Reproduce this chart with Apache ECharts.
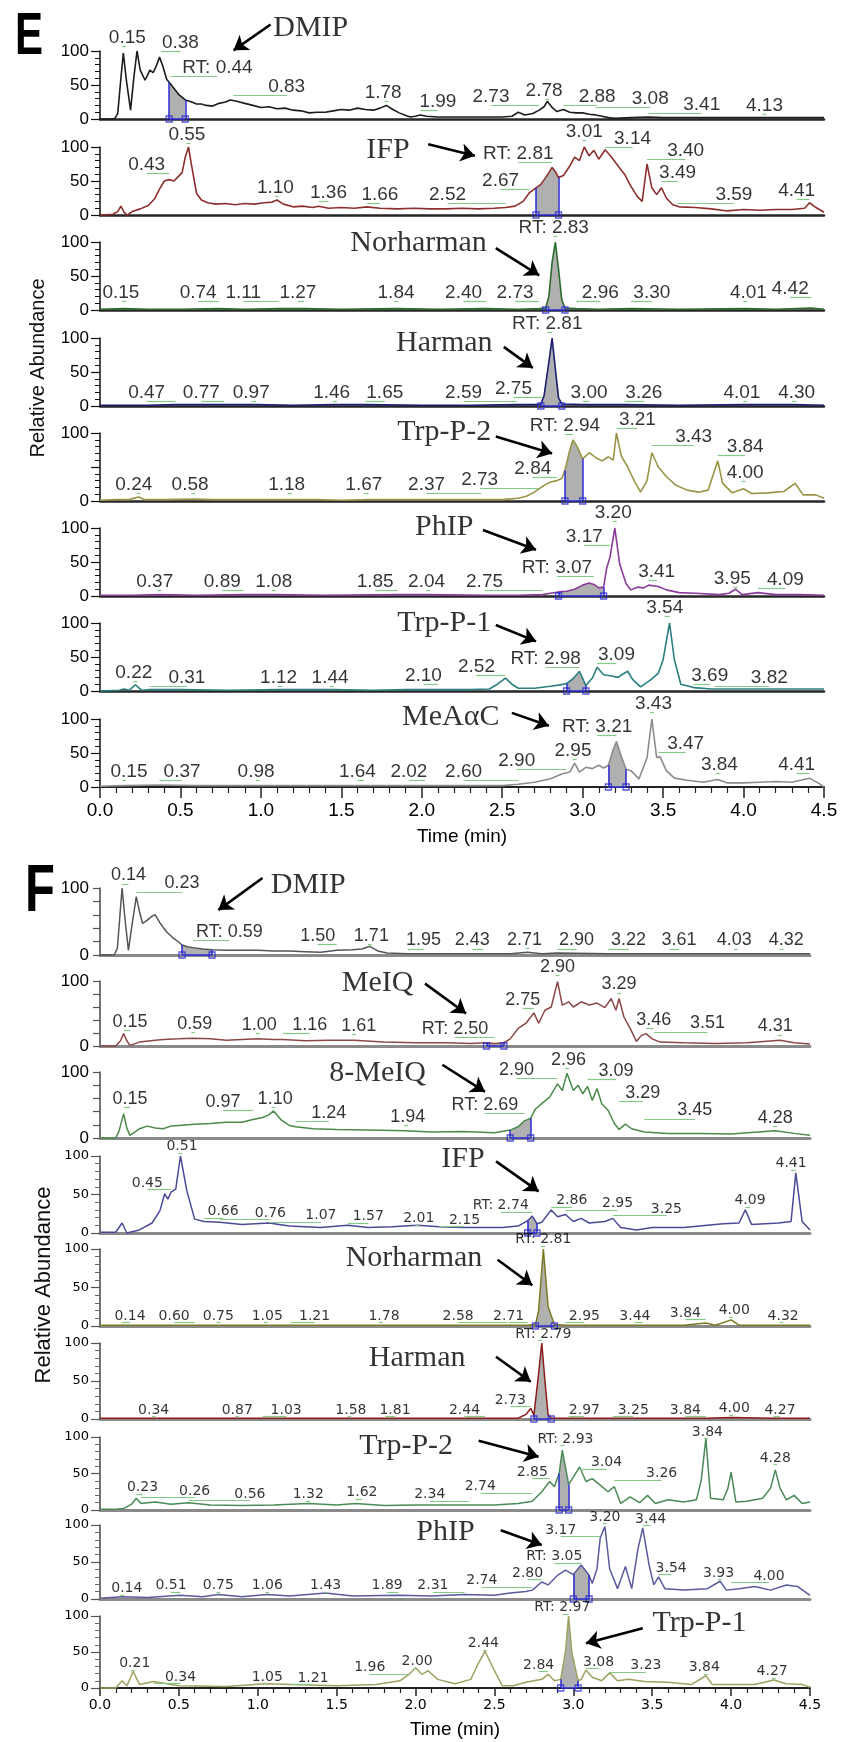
<!DOCTYPE html>
<html><head><meta charset="utf-8">
<script src="https://cdn.jsdelivr.net/npm/echarts/dist/echarts.min.js"></script>
<style>html,body{margin:0;padding:0;background:#fff}#c{width:843px;height:1742px}</style>
</head><body><div id="c"></div>
<script>
// ---------- tick labels ----------
const timeTickLabels = ['0.0','0.5','1.0','1.5','2.0','2.5','3.0','3.5','4.0','4.5'];
const yTickLabels3 = {0:'0',50:'50',100:'100'};
const yTickLabelsEnds = {0:'0',100:'100'};

// ---------- Panel E ----------
const eDmipData = [[0,0],[0.09,0],[0.11,8],[0.13,60],[0.145,97],[0.165,55],[0.19,13],[0.21,60],[0.23,100],[0.25,72],[0.28,57],[0.31,72],[0.33,68],[0.35,78],[0.37,91],[0.39,78],[0.415,58],[0.43,54],[0.46,45],[0.49,36],[0.53,28],[0.57,25],[0.6,22],[0.63,22],[0.66,20],[0.7,19],[0.74,23],[0.78,25],[0.81,28],[0.85,26],[0.9,23],[0.95,20],[1.0,17],[1.05,18],[1.1,15],[1.15,16],[1.2,13],[1.25,12],[1.3,9],[1.35,10],[1.4,10],[1.45,12],[1.5,14],[1.55,13],[1.6,16],[1.65,14],[1.7,13],[1.74,16],[1.78,20],[1.82,14],[1.86,9],[1.9,5],[1.93,3],[1.96,4],[1.99,6],[2.03,4],[2.1,3],[2.2,3],[2.3,3],[2.4,3],[2.5,3],[2.56,4],[2.6,10],[2.64,6],[2.69,8],[2.73,13],[2.76,18],[2.78,26],[2.81,17],[2.84,11],[2.88,14],[2.92,10],[2.96,9],[3.0,9],[3.04,7],[3.08,6],[3.12,4],[3.16,2],[3.2,1],[3.3,2],[3.41,3],[3.5,2],[3.7,2],[3.9,2],[4.13,2],[4.3,2],[4.5,2]];
const eDmipLabels = [['0.15',0.17,119],['0.38',0.50,112],['RT: 0.44',0.73,75],['0.83',1.16,47],['1.78',1.76,38],['1.99',2.10,26],['2.73',2.43,33],['2.78',2.76,42],['2.88',3.09,33],['3.08',3.42,30],['3.41',3.74,21],['4.13',4.13,20]];
const eDmipName = ['DMIP',1.31,134];
const eDmipArrow = [1.06,139,0.83,101];
const eDmipShade = [0.43,0.53];

const eIfpData = [[0,0],[0.08,1],[0.11,5],[0.13,13],[0.15,4],[0.17,0],[0.2,5],[0.25,9],[0.3,14],[0.34,24],[0.37,38],[0.4,50],[0.43,52],[0.46,50],[0.48,55],[0.51,62],[0.53,85],[0.55,100],[0.57,72],[0.6,32],[0.63,22],[0.67,18],[0.72,16],[0.78,17],[0.84,15],[0.9,17],[0.96,16],[1.02,18],[1.07,19],[1.1,22],[1.14,16],[1.2,12],[1.26,13],[1.32,11],[1.36,13],[1.42,10],[1.5,11],[1.58,10],[1.66,12],[1.74,10],[1.85,9],[1.95,10],[2.05,9],[2.15,9],[2.25,10],[2.35,9],[2.45,10],[2.52,11],[2.58,13],[2.63,20],[2.67,33],[2.71,40],[2.74,45],[2.77,55],[2.81,70],[2.83,64],[2.85,55],[2.88,58],[2.92,72],[2.95,85],[2.98,80],[3.01,100],[3.04,87],[3.07,95],[3.1,82],[3.14,96],[3.18,85],[3.22,72],[3.26,60],[3.3,42],[3.34,27],[3.37,20],[3.40,75],[3.43,40],[3.46,30],[3.49,40],[3.52,25],[3.56,15],[3.6,12],[3.7,11],[3.8,9],[3.9,6],[4.0,8],[4.1,7],[4.2,8],[4.3,8],[4.38,10],[4.41,18],[4.45,11],[4.5,4]];
const eIfpLabels = [['0.43',0.29,74],['0.55',0.54,118],['1.10',1.09,40],['1.36',1.42,32],['1.66',1.74,30],['2.52',2.16,30],['2.67',2.49,51],['RT: 2.81',2.60,90],['3.01',3.01,122],['3.14',3.31,112],['3.40',3.64,95],['3.49',3.59,62],['3.59',3.94,30],['4.41',4.33,35]];
const eIfpName = ['IFP',1.79,96];
const eIfpArrow = [2.04,104,2.33,87];
const eIfpShade = [2.71,2.85];

const eNorData = [[0,1],[0.15,2],[0.3,1],[0.5,1],[0.74,2],[0.9,1],[1.11,2],[1.27,2],[1.5,1],[1.84,2],[2.1,1],[2.4,2],[2.6,1],[2.73,2],[2.77,3],[2.79,20],[2.81,70],[2.83,100],[2.85,60],[2.87,15],[2.89,3],[2.96,2],[3.1,1],[3.3,2],[3.6,1],[4.01,2],[4.2,1],[4.42,3],[4.5,1]];
const eNorLabels = [['0.15',0.13,25],['0.74',0.61,25],['1.11',0.89,25],['1.27',1.23,25],['1.84',1.84,25],['2.40',2.26,25],['2.73',2.58,25],['RT: 2.83',2.82,121],['2.96',3.11,25],['3.30',3.43,25],['4.01',4.03,25],['4.42',4.29,31]];
const eNorName = ['Norharman',1.98,98];
const eNorArrow = [2.46,91,2.73,51];
const eNorShade = [2.77,2.89];

const eHarData = [[0,1],[0.3,1],[0.47,2],[0.77,2],[0.97,2],[1.2,1],[1.46,2],[1.65,2],[2.0,1],[2.3,1],[2.59,2],[2.7,2],[2.74,3],[2.76,15],[2.79,65],[2.81,100],[2.83,55],[2.85,12],[2.87,3],[3.0,2],[3.26,2],[3.6,1],[4.01,2],[4.3,2],[4.5,1]];
const eHarLabels = [['RT: 2.81',2.78,121],['0.47',0.29,19],['0.77',0.63,19],['0.97',0.94,19],['1.46',1.44,19],['1.65',1.77,19],['2.59',2.26,19],['2.75',2.57,25],['3.00',3.04,19],['3.26',3.38,19],['4.01',3.99,19],['4.30',4.33,19]];
const eHarName = ['Harman',2.14,93];
const eHarArrow = [2.51,87,2.69,56];
const eHarShade = [2.74,2.87];

const eTrp2Data = [[0,1],[0.1,2],[0.18,2],[0.24,6],[0.28,2],[0.4,2],[0.58,3],[0.7,2],[0.9,2],[1.18,2],[1.35,2],[1.5,1],[1.67,2],[1.85,2],[2.0,2],[2.2,2],[2.37,2],[2.5,2],[2.6,4],[2.65,7],[2.7,13],[2.76,23],[2.8,28],[2.84,30],[2.87,33],[2.89,45],[2.92,75],[2.94,90],[2.97,78],[3.0,62],[3.04,71],[3.08,64],[3.12,59],[3.16,65],[3.19,60],[3.21,100],[3.24,66],[3.28,50],[3.32,30],[3.36,13],[3.40,30],[3.43,71],[3.47,50],[3.52,36],[3.58,23],[3.65,16],[3.72,13],[3.78,16],[3.82,45],[3.84,59],[3.87,26],[3.93,12],[4.0,18],[4.05,11],[4.15,12],[4.25,14],[4.32,26],[4.37,9],[4.45,9],[4.5,4]];
const eTrp2Labels = [['RT: 2.94',2.89,110],['3.21',3.34,120],['3.43',3.69,95],['3.84',4.01,80],['4.00',4.01,41],['2.84',2.69,48],['2.73',2.36,31],['2.37',2.03,24],['1.67',1.64,24],['1.18',1.16,24],['0.58',0.56,24],['0.24',0.21,24]];
const eTrp2Name = ['Trp-P-2',2.14,102];
const eTrp2Arrow = [2.46,95,2.81,70];
const eTrp2Shade = [2.89,3.0];

const ePhipData = [[0,1],[0.2,1],[0.37,2],[0.6,1],[0.89,2],[1.08,2],[1.4,1],[1.85,2],[2.04,2],[2.4,1],[2.6,1],[2.75,2],[2.8,4],[2.85,6],[2.9,7],[2.95,10],[3.0,16],[3.04,19],[3.07,17],[3.1,12],[3.13,13],[3.15,42],[3.17,57],[3.2,100],[3.23,47],[3.27,18],[3.3,9],[3.34,13],[3.38,12],[3.41,16],[3.47,14],[3.52,9],[3.6,5],[3.7,4],[3.85,2],[3.91,4],[3.95,10],[3.99,2],[4.09,5],[4.2,2],[4.35,2],[4.5,1]];
const ePhipLabels = [['3.20',3.19,122],['3.17',3.01,87],['RT: 3.07',2.84,41],['3.41',3.46,36],['3.95',3.93,26],['4.09',4.26,24],['2.75',2.39,21],['2.04',2.03,21],['1.85',1.71,21],['1.08',1.08,21],['0.89',0.76,21],['0.37',0.34,21]];
const ePhipName = ['PhIP',2.14,102];
const ePhipArrow = [2.38,97,2.71,68];
const ePhipShade = [2.85,3.13];

const eTrp1Data = [[0,0],[0.12,1],[0.15,3],[0.18,1],[0.22,9],[0.26,1],[0.31,2],[0.5,2],[0.8,1],[1.12,2],[1.44,2],[1.7,1],[1.9,2],[2.1,2],[2.3,2],[2.42,3],[2.47,10],[2.52,19],[2.56,10],[2.6,4],[2.7,4],[2.8,7],[2.86,9],[2.9,11],[2.94,18],[2.98,29],[3.02,8],[3.06,19],[3.09,35],[3.13,24],[3.18,22],[3.22,20],[3.25,25],[3.28,29],[3.31,17],[3.36,6],[3.42,16],[3.47,26],[3.5,46],[3.54,100],[3.57,46],[3.61,10],[3.69,5],[3.8,3],[3.9,3],[4.0,3],[4.2,3],[4.4,3],[4.5,3]];
const eTrp1Labels = [['3.54',3.51,122],['RT: 2.98',2.77,48],['3.09',3.21,53],['2.52',2.34,36],['2.10',2.01,23],['1.44',1.43,20],['1.12',1.11,20],['0.31',0.54,20],['0.22',0.21,27],['3.69',3.79,23],['3.82',4.16,20]];
const eTrp1Name = ['Trp-P-1',2.14,100];
const eTrp1Arrow = [2.46,97,2.71,73];
const eTrp1Shade = [2.9,3.02];

const eMeacData = [[0,1],[0.15,2],[0.37,3],[0.6,2],[0.98,2],[1.3,2],[1.64,2],[1.8,2],[2.02,2],[2.3,2],[2.5,2],[2.6,4],[2.7,7],[2.8,12],[2.87,19],[2.92,22],[2.95,35],[2.98,22],[3.02,29],[3.06,27],[3.1,32],[3.13,28],[3.16,32],[3.19,55],[3.21,67],[3.24,45],[3.27,26],[3.3,24],[3.35,12],[3.4,43],[3.43,100],[3.46,43],[3.48,45],[3.52,24],[3.57,13],[3.65,10],[3.75,7],[3.84,11],[3.9,6],[4.0,6],[4.1,7],[4.2,8],[4.3,7],[4.41,13],[4.47,5],[4.5,0]];
const eMeacLabels = [['3.43',3.44,122],['RT: 3.21',3.09,89],['3.47',3.64,64],['2.95',2.94,54],['2.90',2.59,39],['2.60',2.26,23],['2.02',1.92,23],['1.64',1.60,23],['0.98',0.97,23],['0.37',0.51,23],['0.15',0.18,23],['3.84',3.85,32],['4.41',4.33,32]];
const eMeacName = ['MeA\u03b1C',2.18,103];
const eMeacArrow = [2.56,109,2.79,90];
const eMeacShade = [3.16,3.27];

// ---------- Panel F ----------
const fDmipData = [[0,0],[0.09,0],[0.11,10],[0.14,100],[0.16,50],[0.18,7],[0.2,40],[0.23,87],[0.25,65],[0.27,47],[0.3,52],[0.33,58],[0.35,60],[0.38,48],[0.42,35],[0.46,26],[0.5,19],[0.52,15],[0.56,12],[0.59,11],[0.65,9],[0.71,8],[0.8,7],[0.9,7],[1.0,7],[1.1,6],[1.2,6],[1.3,5],[1.4,4],[1.5,7],[1.6,8],[1.66,9],[1.71,13],[1.76,6],[1.82,3],[1.95,2],[2.2,2],[2.43,2],[2.6,2],[2.71,4],[2.8,2],[2.9,3],[3.22,2],[3.5,2],[3.8,2],[4.03,2],[4.32,2],[4.5,2]];
const fDmipLabels = [['0.14',0.18,119],['0.23',0.52,107],['RT: 0.59',0.82,34],['1.50',1.38,28],['1.71',1.72,29],['1.95',2.05,22],['2.43',2.36,22],['2.71',2.69,23],['2.90',3.02,22],['3.22',3.35,22],['3.61',3.67,22],['4.03',4.02,22],['4.32',4.35,22]];
const fDmipName = ['DMIP',1.32,104];
const fDmipArrow = [1.03,115,0.75,67];
const fDmipShade = [0.52,0.71];

const fMeiqData = [[0,0],[0.1,0],[0.13,8],[0.15,19],[0.17,8],[0.19,1],[0.25,6],[0.32,8],[0.4,10],[0.5,11],[0.59,12],[0.7,11],[0.8,9],[0.9,10],[1.0,11],[1.1,10],[1.16,10],[1.3,8],[1.45,9],[1.61,9],[1.8,6],[2.0,5],[2.2,5],[2.35,4],[2.45,5],[2.5,4],[2.56,5],[2.6,11],[2.65,27],[2.7,35],[2.75,51],[2.78,35],[2.82,55],[2.86,60],[2.9,99],[2.93,63],[2.97,68],[3.0,60],[3.05,68],[3.1,63],[3.15,66],[3.2,59],[3.24,73],[3.27,55],[3.29,73],[3.32,45],[3.36,27],[3.4,7],[3.43,16],[3.46,19],[3.5,11],[3.55,6],[3.7,5],[3.9,4],[4.1,5],[4.31,9],[4.4,5],[4.5,3]];
const fMeiqLabels = [['2.90',2.90,122],['3.29',3.29,95],['2.75',2.68,71],['RT: 2.50',2.25,26],['0.15',0.19,37],['0.59',0.60,34],['1.00',1.01,32],['1.16',1.33,32],['1.61',1.64,31],['3.46',3.51,40],['3.51',3.85,35],['4.31',4.28,30]];
const fMeiqName = ['MeIQ',1.76,96];
const fMeiqArrow = [2.06,96,2.32,50];
const fMeiqShade = [2.45,2.56];

const f8MeiqData = [[0,0],[0.1,0],[0.12,10],[0.15,37],[0.17,15],[0.19,4],[0.25,14],[0.3,18],[0.35,15],[0.4,14],[0.45,18],[0.5,19],[0.6,21],[0.7,22],[0.8,24],[0.9,24],[0.97,28],[1.03,31],[1.07,35],[1.10,41],[1.15,27],[1.2,19],[1.24,17],[1.35,14],[1.5,13],[1.7,12],[1.94,11],[2.1,9],[2.3,10],[2.5,8],[2.6,12],[2.65,17],[2.69,26],[2.73,30],[2.76,44],[2.8,52],[2.85,62],[2.9,82],[2.93,72],[2.96,98],[3.0,72],[3.03,80],[3.06,67],[3.09,78],[3.12,57],[3.15,75],[3.18,52],[3.22,42],[3.26,22],[3.29,13],[3.33,21],[3.37,14],[3.45,9],[3.6,7],[3.8,7],[4.0,6],[4.28,11],[4.4,7],[4.5,4]];
const f8MeiqLabels = [['2.96',2.97,118],['2.90',2.64,103],['3.09',3.27,102],['3.29',3.44,68],['3.45',3.77,42],['4.28',4.28,30],['RT: 2.69',2.44,50],['0.15',0.19,59],['0.97',0.78,55],['1.10',1.11,59],['1.24',1.45,38],['1.94',1.95,32]];
const f8MeiqName = ['8-MeIQ',1.76,98];
const f8MeiqArrow = [2.17,111,2.44,70];
const f8MeiqShade = [2.6,2.73];

const fIfpData = [[0,1],[0.1,1],[0.14,13],[0.17,0],[0.25,4],[0.33,13],[0.38,29],[0.41,51],[0.43,44],[0.45,53],[0.48,57],[0.51,100],[0.55,55],[0.6,18],[0.66,15],[0.76,14],[0.9,11],[1.07,13],[1.2,9],[1.4,7],[1.57,10],[1.7,7],[1.85,8],[2.01,10],[2.15,8],[2.3,7],[2.45,7],[2.55,7],[2.65,9],[2.71,16],[2.74,22],[2.77,12],[2.8,14],[2.86,30],[2.9,21],[2.95,24],[3.0,15],[3.05,19],[3.1,13],[3.2,15],[3.25,19],[3.3,7],[3.4,4],[3.5,7],[3.7,7],[3.95,12],[4.05,13],[4.09,30],[4.13,11],[4.3,13],[4.38,15],[4.41,78],[4.45,15],[4.5,4]];
const fIfpLabels = [['0.51',0.52,112],['4.41',4.38,90],['0.45',0.30,65],['0.66',0.78,28],['0.76',1.08,26],['1.07',1.40,23],['1.57',1.70,21],['2.01',2.02,19],['2.15',2.31,17],['RT: 2.74',2.54,36],['2.86',2.99,42],['2.95',3.28,38],['3.25',3.59,31],['4.09',4.12,42]];
const fIfpName = ['IFP',2.30,96];
const fIfpArrow = [2.51,93,2.78,54];
const fIfpShade = [2.71,2.77];

const fNorData = [[0,1],[0.14,1],[0.3,1],[0.6,1],[0.75,1],[1.05,1],[1.21,1],[1.5,1],[1.78,1],[2.2,1],[2.58,1],[2.71,1],[2.76,2],[2.78,20],[2.81,100],[2.84,25],[2.88,2],[2.95,1],[3.2,1],[3.44,1],[3.7,1],[3.84,4],[3.9,1],[4.0,8],[4.05,1],[4.32,1],[4.5,1]];
const fNorLabels = [['RT: 2.81',2.81,112],['0.14',0.19,13],['0.60',0.47,13],['0.75',0.75,13],['1.05',1.06,13],['1.21',1.36,13],['1.78',1.80,13],['2.58',2.27,13],['2.71',2.59,13],['2.95',3.07,13],['3.44',3.39,13],['3.84',3.71,17],['4.00',4.02,20],['4.32',4.33,13]];
const fNorName = ['Norharman',1.99,88];
const fNorArrow = [2.52,86,2.74,53];
const fNorShade = [2.76,2.88];

const fHarData = [[0,1],[0.34,1],[0.87,1],[1.03,1],[1.58,1],[1.81,1],[2.2,1],[2.44,1],[2.65,1],[2.7,6],[2.73,14],[2.75,5],[2.76,4],[2.78,60],[2.80,100],[2.82,50],[2.84,6],[2.86,1],[2.97,1],[3.25,1],[3.84,1],[4.0,2],[4.27,1],[4.5,1]];
const fHarLabels = [['RT: 2.79',2.81,112],['2.73',2.60,25],['0.34',0.34,12],['0.87',0.87,12],['1.03',1.18,12],['1.58',1.59,12],['1.81',1.87,12],['2.44',2.31,12],['2.97',3.07,12],['3.25',3.38,12],['3.84',3.71,12],['4.00',4.02,14],['4.27',4.31,12]];
const fHarName = ['Harman',2.01,80];
const fHarArrow = [2.51,82,2.73,49];
const fHarShade = [2.75,2.86];

const fTrp2Data = [[0,1],[0.1,1],[0.15,2],[0.2,8],[0.23,16],[0.26,9],[0.3,10],[0.35,11],[0.45,8],[0.56,10],[0.7,7],[0.9,6],[1.1,7],[1.32,9],[1.5,7],[1.62,9],[1.8,6],[2.0,7],[2.2,7],[2.34,7],[2.5,7],[2.65,9],[2.74,12],[2.8,25],[2.85,39],[2.88,32],[2.91,50],[2.93,82],[2.97,35],[3.0,45],[3.04,59],[3.08,39],[3.12,43],[3.17,34],[3.22,25],[3.26,32],[3.3,9],[3.36,18],[3.42,10],[3.47,20],[3.52,9],[3.6,14],[3.7,11],[3.78,14],[3.81,40],[3.84,98],[3.87,16],[3.95,14],[3.98,30],[4.0,52],[4.03,11],[4.1,12],[4.2,16],[4.25,30],[4.28,55],[4.31,30],[4.35,14],[4.4,20],[4.45,9],[4.5,11]];
const fTrp2Labels = [['RT: 2.93',2.95,97],['3.84',3.85,107],['4.28',4.28,71],['3.04',3.21,65],['2.85',2.74,52],['3.26',3.56,50],['2.74',2.41,32],['2.34',2.09,21],['1.62',1.66,24],['1.32',1.32,21],['0.56',0.95,22],['0.26',0.60,26],['0.23',0.27,31]];
const fTrp2Name = ['Trp-P-2',1.94,87];
const fTrp2Arrow = [2.40,95,2.78,73];
const fTrp2Shade = [2.91,2.97];

const fPhipData = [[0,1],[0.14,3],[0.3,2],[0.51,5],[0.65,3],[0.75,6],[0.9,3],[1.06,6],[1.2,4],[1.43,8],[1.6,4],[1.89,5],[2.1,4],[2.31,6],[2.5,5],[2.6,8],[2.7,10],[2.74,12],[2.8,23],[2.84,19],[2.9,32],[2.95,39],[3.0,33],[3.05,46],[3.1,32],[3.12,21],[3.15,41],[3.17,82],[3.20,98],[3.23,41],[3.28,14],[3.33,44],[3.37,14],[3.41,68],[3.44,96],[3.48,46],[3.51,19],[3.54,30],[3.58,14],[3.7,12],[3.85,14],[3.93,24],[3.97,12],[4.05,14],[4.15,17],[4.25,12],[4.35,19],[4.42,17],[4.5,5]];
const fPhipLabels = [['3.20',3.20,111],['3.44',3.49,108],['3.17',2.92,93],['RT: 3.05',2.88,57],['2.80',2.71,35],['2.74',2.42,25],['3.54',3.62,42],['3.93',3.92,35],['4.00',4.24,31],['2.31',2.11,18],['1.89',1.82,18],['1.43',1.43,18],['1.06',1.06,18],['0.75',0.75,18],['0.51',0.45,18],['0.14',0.17,14]];
const fPhipName = ['PhIP',2.19,91];
const fPhipArrow = [2.54,93,2.80,73];
const fPhipShade = [3.0,3.1];

const fTrp1Data = [[0,0],[0.1,0],[0.14,10],[0.17,3],[0.21,23],[0.25,5],[0.34,9],[0.5,3],[0.8,2],[1.05,6],[1.21,5],[1.5,3],[1.75,5],[1.9,10],[1.96,19],[2.0,28],[2.04,19],[2.08,24],[2.14,12],[2.25,6],[2.35,12],[2.4,35],[2.44,51],[2.5,24],[2.55,3],[2.62,3],[2.7,8],[2.8,12],[2.84,19],[2.88,10],[2.92,12],[2.95,50],[2.97,100],[2.99,50],[3.03,10],[3.05,12],[3.08,25],[3.12,15],[3.18,10],[3.23,21],[3.28,10],[3.35,12],[3.45,9],[3.6,8],[3.75,5],[3.84,17],[3.88,5],[4.0,5],[4.15,5],[4.27,11],[4.35,6],[4.45,5],[4.5,1]];
const fTrp1Labels = [['RT: 2.97',2.93,112],['2.44',2.43,62],['2.00',2.01,37],['1.96',1.71,28],['0.21',0.22,34],['0.34',0.51,15],['1.05',1.06,15],['1.21',1.35,14],['2.84',2.78,32],['3.08',3.16,36],['3.23',3.46,31],['3.84',3.83,28],['4.27',4.26,23]];
const fTrp1Name = ['Trp-P-1',3.80,90];
const fTrp1Arrow = [3.44,83,3.08,62];
const fTrp1Shade = [2.92,3.03];

// ---------- layout (pixels) ----------
const eTops = [51,147,242,338,433,528,623,719];
const eBottoms = [119,215,310,406,501,596,691,787];
const fTops = [888,981,1072,1156,1249,1343,1437,1525,1616];
const fBottoms = [955,1046,1138,1233,1326,1419,1510,1599,1688];

const eTraces = [
  {data:eDmipData, labels:eDmipLabels, name:eDmipName, arrow:eDmipArrow, shade:eDmipShade, color:'#1c1c1c', ymode:3},
  {data:eIfpData, labels:eIfpLabels, name:eIfpName, arrow:eIfpArrow, shade:eIfpShade, color:'#8e2f2f', ymode:3},
  {data:eNorData, labels:eNorLabels, name:eNorName, arrow:eNorArrow, shade:eNorShade, color:'#2b6b2b', ymode:3},
  {data:eHarData, labels:eHarLabels, name:eHarName, arrow:eHarArrow, shade:eHarShade, color:'#1c1c70', ymode:3},
  {data:eTrp2Data, labels:eTrp2Labels, name:eTrp2Name, arrow:eTrp2Arrow, shade:eTrp2Shade, color:'#9a9446', ymode:2},
  {data:ePhipData, labels:ePhipLabels, name:ePhipName, arrow:ePhipArrow, shade:ePhipShade, color:'#8b3b9c', ymode:3},
  {data:eTrp1Data, labels:eTrp1Labels, name:eTrp1Name, arrow:eTrp1Arrow, shade:eTrp1Shade, color:'#2a7f80', ymode:3},
  {data:eMeacData, labels:eMeacLabels, name:eMeacName, arrow:eMeacArrow, shade:eMeacShade, color:'#8c8c8c', ymode:3}
];
const fTraces = [
  {data:fDmipData, labels:fDmipLabels, name:fDmipName, arrow:fDmipArrow, shade:fDmipShade, color:'#555555', ymode:1, small:false},
  {data:fMeiqData, labels:fMeiqLabels, name:fMeiqName, arrow:fMeiqArrow, shade:fMeiqShade, color:'#8b4848', ymode:1, small:false},
  {data:f8MeiqData, labels:f8MeiqLabels, name:f8MeiqName, arrow:f8MeiqArrow, shade:f8MeiqShade, color:'#4a8a4a', ymode:1, small:false},
  {data:fIfpData, labels:fIfpLabels, name:fIfpName, arrow:fIfpArrow, shade:fIfpShade, color:'#4a4a96', ymode:3, small:true},
  {data:fNorData, labels:fNorLabels, name:fNorName, arrow:fNorArrow, shade:fNorShade, color:'#7a7a22', ymode:3, small:true},
  {data:fHarData, labels:fHarLabels, name:fHarName, arrow:fHarArrow, shade:fHarShade, color:'#8b1c1c', ymode:3, small:true},
  {data:fTrp2Data, labels:fTrp2Labels, name:fTrp2Name, arrow:fTrp2Arrow, shade:fTrp2Shade, color:'#4a8a56', ymode:3, small:true},
  {data:fPhipData, labels:fPhipLabels, name:fPhipName, arrow:fPhipArrow, shade:fPhipShade, color:'#5a5a9e', ymode:3, small:true},
  {data:fTrp1Data, labels:fTrp1Labels, name:fTrp1Name, arrow:fTrp1Arrow, shade:fTrp1Shade, color:'#a0a060', ymode:3, small:true}
];

const SANS = '"Liberation Sans", Arial, sans-serif';
const SERIF = '"Liberation Serif", "Times New Roman", serif';
const DEJA = '"DejaVu Sans", sans-serif';

function valueAt(data, t) {
  for (let i = 0; i < data.length; i++) {
    if (Math.abs(data[i][0] - t) < 1e-6) return data[i][1];
    if (data[i][0] > t && i > 0) {
      const a = data[i-1], b = data[i];
      return a[1] + (b[1]-a[1])*(t-a[0])/(b[0]-a[0]);
    }
  }
  return 0;
}

const grids = [], xAxes = [], yAxes = [], series = [];

function addTrace(tr, gi, top, bottom, left, width, panel, isBottom) {
  const h = bottom - top;
  grids.push({left:left, top:top, width:width, height:h, outerBoundsMode:'none'});
  const small = panel === 'F' && tr.small;
  const baseColor = panel === 'E' ? '#262626' : '#8a8a8a';
  const xa = {
    gridIndex:gi, type:'value', min:0, max:4.5, interval:0.5,
    axisLine:{show:true, onZero:false, lineStyle:{color:baseColor, width:panel==='E'?2.5:3}},
    axisTick:{show:false}, axisLabel:{show:false}, splitLine:{show:false}
  };
  if (isBottom) {
    xa.axisLine.lineStyle = {color:'#222', width:2};
    xa.axisTick = {show:true, length:panel==='E'?11:8, lineStyle:{color:'#222', width:1.5}};
    xa.minorTick = {show:true, splitNumber:5, length:panel==='E'?6:5, lineStyle:{color:'#222', width:1.2}};
    xa.axisLabel = {show:true, margin:panel==='E'?14:10, color:'#000',
      fontSize:panel==='E'?19:14, fontFamily:panel==='E'?SANS:DEJA,
      formatter:function(v){ const i = Math.round(v/0.5); return timeTickLabels[i] || ''; }};
    xa.name = 'Time (min)';
    xa.nameLocation = 'middle';
    xa.nameGap = panel==='E' ? 40 : 32;
    xa.nameTextStyle = {fontSize:19, color:'#000', fontFamily:SANS};
  }
  xAxes.push(xa);

  const labelMap = tr.ymode === 3 ? yTickLabels3 : yTickLabelsEnds;
  const ya = {
    gridIndex:gi, type:'value', min:0, max:100, interval: tr.ymode === 1 ? 20 : 50,
    axisLine:{show:true, lineStyle:{color: panel==='E' ? '#111' : '#444', width:1.5}},
    axisTick:{show:true, length: tr.ymode===1 ? 7 : 9, lineStyle:{color: panel==='E' ? '#111' : '#555', width:1.2}},
    minorTick:{show: tr.ymode !== 1, splitNumber:5, length:5, lineStyle:{color: panel==='E' ? '#111' : '#666', width:1}},
    splitLine:{show:false}, minorSplitLine:{show:false},
    axisLabel:{show:true, color:'#000', margin:11,
      fontSize: small ? 13 : 17, fontFamily: small ? DEJA : SANS,
      formatter:function(v){ const s = labelMap[Math.round(v)]; return s === undefined ? '' : s; }}
  };
  yAxes.push(ya);

  const base = {xAxisIndex:gi, yAxisIndex:gi, animation:false, silent:true};

  series.push(Object.assign({type:'line', data:tr.data, symbol:'none', showSymbol:false, clip:false,
    lineStyle:{color:tr.color, width: panel==='E' ? 1.6 : 1.5}, z:4}, base));

  if (tr.shade) {
    const a = tr.shade[0], b = tr.shade[1];
    const seg = tr.data.filter(d => d[0] >= a - 1e-9 && d[0] <= b + 1e-9);
    series.push(Object.assign({type:'line', data:seg, symbol:'none', showSymbol:false, clip:false,
      lineStyle:{width:0, opacity:0}, areaStyle:{color:'#b0b0b0', opacity:1}, z:3}, base));
    const va = valueAt(tr.data, a), vb = valueAt(tr.data, b);
    series.push(Object.assign({type:'lines', coordinateSystem:'cartesian2d', clip:false,
      data:[{coords:[[a,0],[a,va]]},{coords:[[b,0],[b,vb]]},{coords:[[a,0],[b,0]]}],
      lineStyle:{color:'#2a2ad2', width:1.5, opacity:1}, z:5}, base));
    series.push(Object.assign({type:'scatter', data:[[a,0],[b,0]], symbol:'rect', symbolSize:[6,6], clip:false,
      itemStyle:{color:'rgba(0,0,0,0)', borderColor:'#2a2ad2', borderWidth:1.3}, z:6}, base));
  }

  const dy = (small ? 6.5 : 8.5) * 100 / h;
  const leaders = [];
  tr.labels.forEach(l => {
    const rt = parseFloat(l[0].replace('RT:', ''));
    if (Math.abs(rt - l[1]) > 0.03) {
      leaders.push({coords:[[rt, l[2]-dy],[l[1], l[2]-dy]]});
    } else {
      leaders.push({coords:[[rt-0.012, l[2]-dy],[rt+0.012, l[2]-dy]]});
    }
  });
  series.push(Object.assign({type:'lines', coordinateSystem:'cartesian2d', clip:false, data:leaders,
    lineStyle:{color:'#86c986', width:1.2, opacity:1}, z:5}, base));

  series.push(Object.assign({type:'scatter', clip:false, symbol:'circle', symbolSize:1,
    itemStyle:{color:'rgba(0,0,0,0)'},
    data: tr.labels.map(l => ({name:l[0], value:[l[1], l[2]]})),
    label:{show:true, position:'inside', formatter:'{b}', color:'#000',
      fontSize: small ? 14 : (panel==='E' ? 19 : 18), fontFamily: small ? DEJA : SANS}, z:7}, base));

  series.push(Object.assign({type:'scatter', clip:false, symbol:'circle', symbolSize:1,
    itemStyle:{color:'rgba(0,0,0,0)'},
    data:[{name:tr.name[0], value:[tr.name[1], tr.name[2]]}],
    label:{show:true, position:'inside', formatter:'{b}', color:'#000', fontSize:30, fontFamily:SERIF}, z:7}, base));

  series.push(Object.assign({type:'lines', coordinateSystem:'cartesian2d', clip:false,
    data:[{coords:[[tr.arrow[0], tr.arrow[1]],[tr.arrow[2], tr.arrow[3]]]}],
    symbol:['none','arrow'], symbolSize:14,
    lineStyle:{color:'#000', width:2.6, opacity:1}, z:7}, base));
}

let gi = 0;
eTraces.forEach((tr, i) => { addTrace(tr, gi++, eTops[i], eBottoms[i], 100, 724, 'E', i === eTraces.length-1); });
fTraces.forEach((tr, i) => { addTrace(tr, gi++, fTops[i], fBottoms[i], 100, 710, 'F', i === fTraces.length-1); });

const chart = echarts.init(document.getElementById('c'), null, {renderer:'canvas', width:843, height:1742});
chart.setOption({
  backgroundColor:'#ffffff',
  animation:false,
  grid:grids, xAxis:xAxes, yAxis:yAxes, series:series,
  graphic:[
    {type:'text', x:15, y:37, scaleX:0.7, silent:true,
      style:{text:'E', font:'bold 60px ' + SANS, fill:'#000', align:'left', verticalAlign:'middle', textAlign:'left', textVerticalAlign:'middle'}},
    {type:'text', x:25, y:893, scaleX:0.73, silent:true,
      style:{text:'F', font:'bold 67px ' + SANS, fill:'#000', align:'left', verticalAlign:'middle', textAlign:'left', textVerticalAlign:'middle'}},
    {type:'text', x:38, y:368, rotation:Math.PI/2, silent:true,
      style:{text:'Relative Abundance', font:'20px ' + SANS, fill:'#111', align:'center', verticalAlign:'middle', textAlign:'center', textVerticalAlign:'middle'}},
    {type:'text', x:44, y:1285, rotation:Math.PI/2, silent:true,
      style:{text:'Relative Abundance', font:'22px ' + SANS, fill:'#111', align:'center', verticalAlign:'middle', textAlign:'center', textVerticalAlign:'middle'}}
  ]
});
</script></body></html>
